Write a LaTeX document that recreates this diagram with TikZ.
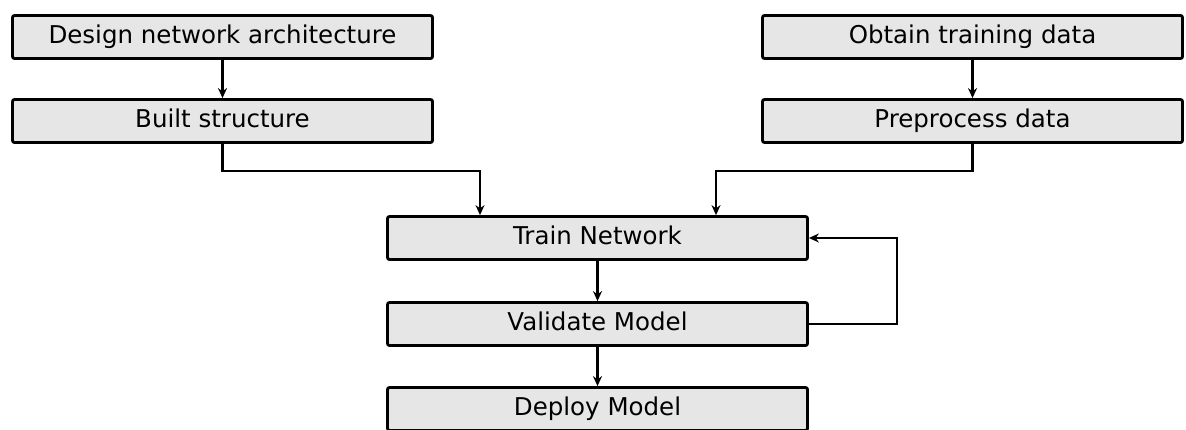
\documentclass[tikz,border=0pt]{standalone}
\usepackage{fontspec}
\setmainfont{DejaVu Sans}
\usetikzlibrary{arrows.meta}
\definecolor{boxgray}{HTML}{E6E6E6}
\begin{document}
\begin{tikzpicture}[x=1pt,y=-1pt,
  box/.style={draw=black, fill=boxgray, line width=2.8pt, rounded corners=2pt,
    minimum width=420pt, minimum height=43pt, inner sep=0pt,
    text height=18pt, text depth=5pt,
    font=\fontsize{24.5}{28}\selectfont},
  conn/.style={line width=2.4pt, -{Stealth[length=10pt,width=9pt]}}]
\useasboundingbox (0,0) rectangle (1186,429);
\node[box] (design) at (222.5,37) {Design network architecture};
\node[box] (built)  at (222.5,121) {Built structure};
\node[box] (obtain) at (972.5,37) {Obtain training data};
\node[box] (prep)   at (972.5,121) {Preprocess data};
\node[box] (train)  at (597.5,238) {Train Network};
\node[box] (valid)  at (597.5,324) {Validate Model};
\node[box] (deploy) at (597.5,409) {Deploy Model};
\coordinate (l) at (480,171);
\coordinate (r) at (716,171);
\coordinate (fb) at (897,0);
\draw[conn] (design) -- (built);
\draw[conn] (obtain) -- (prep);
\draw[conn] (built.south) |- (l) -- (l |- train.north);
\draw[conn] (prep.south) |- (r) -- (r |- train.north);
\draw[conn] (train) -- (valid);
\draw[conn] (valid) -- (deploy);
\draw[conn] (valid.east) -- (valid.east -| fb) |- (train.east);
\end{tikzpicture}
\end{document}
